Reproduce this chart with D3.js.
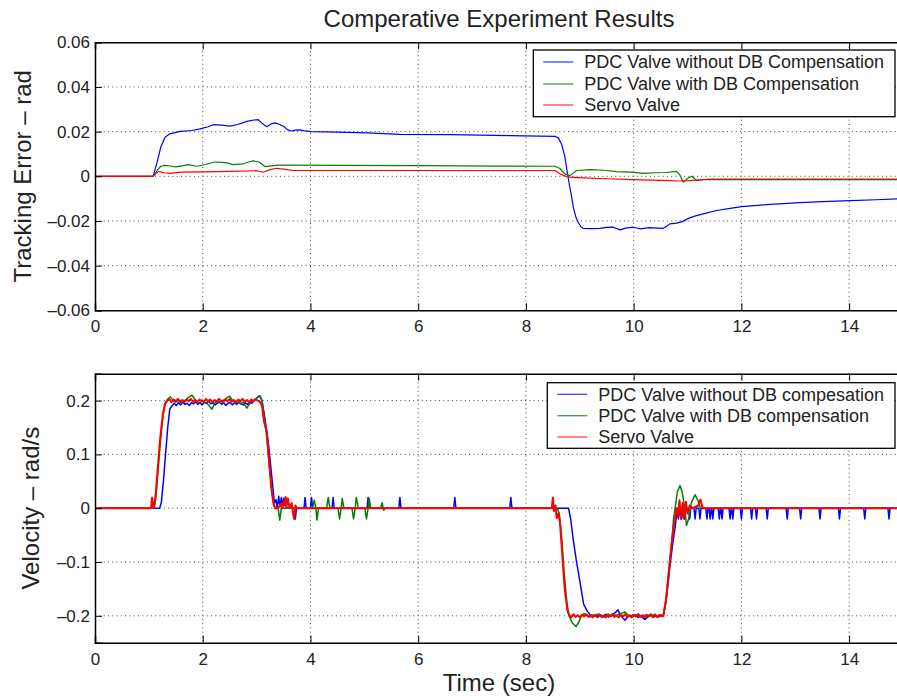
<!DOCTYPE html>
<html>
<head>
<meta charset="utf-8">
<script src="https://cdn.jsdelivr.net/npm/d3@7"></script>
<style>
  body { margin: 0; background: #fff; }
  svg { display: block; font-family: "Liberation Sans", Arial, Helvetica, sans-serif; }
</style>
</head>
<body>
<svg id="chart" width="897" height="700"></svg>
<script>
// ---- data ----
const xTicks = [0, 2, 4, 6, 8, 10, 12, 14];
const errTicks = [-0.06, -0.04, -0.02, 0, 0.02, 0.04, 0.06];
const velTicks = [-0.2, -0.1, 0, 0.1, 0.2];

const seriesColors = ["#0000ff", "#008000", "#ff0000"];
const errLegend = ["PDC Valve without DB Compensation", "PDC Valve with DB Compensation", "Servo Valve"];
const velLegend = ["PDC Valve without DB compesation", "PDC Valve with DB compensation", "Servo Valve"];

// tracking error [t, rad]
const errBlue = [[0,0],[1.08,0],[1.15,0.006],[1.22,0.013],[1.3,0.0175],[1.39,0.019],[1.58,0.0201],[1.8,0.0205],[1.95,0.0212],[2.1,0.0222],[2.2,0.0231],[2.35,0.0229],[2.5,0.0225],[2.65,0.0232],[2.82,0.0246],[2.95,0.0252],[3.03,0.0254],[3.1,0.0238],[3.19,0.0222],[3.27,0.0235],[3.34,0.0239],[3.42,0.0233],[3.5,0.0224],[3.58,0.0208],[3.65,0.0203],[3.72,0.0207],[3.81,0.0208],[3.9,0.0203],[4.02,0.02],[4.5,0.0198],[5.04,0.0194],[5.66,0.0188],[6.59,0.0187],[7.7,0.0182],[8.54,0.0179],[8.6,0.0172],[8.66,0.0145],[8.72,0.009],[8.76,0.003],[8.8,-0.003],[8.85,-0.0094],[8.88,-0.0139],[8.93,-0.0185],[8.97,-0.0206],[9.02,-0.0225],[9.06,-0.0233],[9.2,-0.0234],[9.37,-0.0233],[9.5,-0.0229],[9.62,-0.0228],[9.75,-0.024],[9.85,-0.0232],[9.99,-0.0228],[10.12,-0.0235],[10.3,-0.023],[10.45,-0.0232],[10.55,-0.0233],[10.62,-0.0222],[10.67,-0.0213],[10.8,-0.021],[10.9,-0.0203],[11.04,-0.0186],[11.15,-0.0177],[11.29,-0.0168],[11.54,-0.0153],[11.85,-0.0141],[12,-0.0136],[12.46,-0.0127],[13.09,-0.0118],[13.5,-0.0113],[14.02,-0.0109],[14.5,-0.0105],[15,-0.01]];
const errGreen = [[0,0],[1.08,0],[1.15,0.0025],[1.22,0.0045],[1.3,0.0049],[1.4,0.0046],[1.5,0.0042],[1.62,0.0047],[1.73,0.0052],[1.89,0.0045],[2.05,0.0053],[2.23,0.0064],[2.35,0.0062],[2.45,0.006],[2.56,0.0052],[2.75,0.0056],[2.87,0.0065],[2.94,0.0069],[3.05,0.0064],[3.16,0.0043],[3.28,0.0047],[3.4,0.005],[3.6,0.005],[4.5,0.0049],[6,0.0048],[7.5,0.0046],[8.54,0.0045],[8.63,0.0035],[8.72,0.0011],[8.82,0.0003],[8.94,0.0026],[9.19,0.003],[9.45,0.0027],[9.68,0.0021],[9.95,0.0019],[10.18,0.0013],[10.4,0.0016],[10.61,0.0017],[10.8,0.0022],[10.86,0.0005],[10.92,-0.0027],[11.0,-0.001],[11.08,0],[11.17,-0.0019],[11.29,-0.0015],[15,-0.0015]];
const errRed = [[0,0],[1.08,0],[1.18,0.0022],[1.28,0.0016],[1.4,0.0013],[1.6,0.0019],[2.0,0.002],[2.5,0.0022],[3.0,0.0025],[3.12,0.0018],[3.25,0.003],[3.37,0.0036],[3.5,0.0032],[3.68,0.0026],[5,0.0026],[8.54,0.0026],[8.63,0.0011],[8.79,-0.0004],[9.06,-0.0007],[9.5,-0.0011],[9.99,-0.0015],[10.5,-0.0018],[10.86,-0.0021],[11.04,-0.0019],[11.42,-0.0012],[15,-0.0012]];

// velocity [t, rad/s]
const velBlue = [[0,0],[1.2,0],[1.23,0.01],[1.27,0.05],[1.31,0.1],[1.35,0.15],[1.39,0.185],[1.43,0.19],[1.47,0.195],[1.51,0.191],[1.55,0.196],[1.59,0.192],[1.63,0.197],[1.67,0.193],[1.71,0.195],[1.75,0.191],[1.79,0.196],[1.83,0.194],[1.87,0.198],[1.91,0.193],[1.95,0.196],[1.99,0.192],[2.03,0.197],[2.07,0.195],[2.11,0.199],[2.15,0.194],[2.19,0.196],[2.23,0.192],[2.27,0.195],[2.31,0.198],[2.35,0.193],[2.39,0.196],[2.43,0.191],[2.47,0.195],[2.51,0.197],[2.55,0.192],[2.59,0.196],[2.63,0.193],[2.67,0.197],[2.71,0.194],[2.75,0.192],[2.79,0.196],[2.83,0.193],[2.87,0.197],[2.91,0.195],[2.95,0.199],[3.0,0.205],[3.06,0.209],[3.1,0.2],[3.15,0.17],[3.22,0.12],[3.28,0.06],[3.33,0.01],[3.36,0.016],[3.38,0],[3.41,0.022],[3.43,0.004],[3.46,0.02],[3.48,0.002],[3.5,0.018],[3.52,0.005],[3.54,0.021],[3.56,0],[3.7,0],[3.72,-0.02],[3.74,0],[3.88,0],[3.9,0.02],[3.92,0],[4.0,0],[4.02,0.02],[4.04,0],[4.4,0],[4.42,0.02],[4.44,0],[5.05,0],[5.07,0.02],[5.09,0],[5.64,0],[5.66,0.02],[5.68,0],[6.66,0],[6.68,0.02],[6.7,0],[7.7,0],[7.72,0.02],[7.74,0],[8.79,0],[8.83,-0.02],[8.88,-0.06],[8.94,-0.1],[9.0,-0.135],[9.07,-0.178],[9.13,-0.19],[9.18,-0.197],[9.23,-0.202],[9.28,-0.199],[9.33,-0.203],[9.38,-0.198],[9.43,-0.201],[9.48,-0.197],[9.53,-0.202],[9.58,-0.199],[9.63,-0.196],[9.67,-0.193],[9.71,-0.189],[9.75,-0.198],[9.8,-0.204],[9.84,-0.208],[9.88,-0.203],[9.93,-0.199],[9.98,-0.202],[10.03,-0.198],[10.08,-0.203],[10.13,-0.2],[10.17,-0.204],[10.21,-0.207],[10.26,-0.202],[10.31,-0.199],[10.36,-0.203],[10.41,-0.2],[10.46,-0.202],[10.51,-0.199],[10.55,-0.2],[10.6,-0.175],[10.64,-0.14],[10.67,-0.11],[10.72,-0.07],[10.77,-0.035],[10.81,0],[10.83,-0.02],[10.85,0],[10.87,-0.015],[10.89,-0.02],[10.91,0],[10.93,-0.018],[10.95,-0.02],[10.97,0],[11.02,0],[11.04,-0.02],[11.06,0],[11.12,0],[11.14,-0.02],[11.16,0],[11.21,0],[11.23,-0.02],[11.25,0],[11.34,0],[11.36,-0.02],[11.38,0],[11.4,0],[11.42,-0.02],[11.44,0],[11.45,0],[11.47,-0.02],[11.49,0],[11.57,0],[11.59,-0.02],[11.61,0],[11.62,0],[11.64,-0.02],[11.66,0],[11.77,0],[11.79,-0.02],[11.81,0],[11.82,0],[11.84,-0.02],[11.86,0],[11.98,0],[12.0,-0.02],[12.02,0],[12.17,0],[12.19,-0.02],[12.21,0],[12.26,0],[12.28,-0.02],[12.3,0],[12.46,0],[12.48,-0.02],[12.5,0],[12.83,0],[12.85,-0.02],[12.87,0],[13.08,0],[13.1,-0.02],[13.12,0],[13.44,0],[13.46,-0.02],[13.48,0],[13.8,0],[13.82,-0.02],[13.84,0],[14.27,0],[14.29,-0.02],[14.31,0],[14.72,0],[14.74,-0.02],[14.76,0],[15,0]];
const velGreen = [[0,0],[1.1,0],[1.13,0.02],[1.17,0.07],[1.21,0.12],[1.26,0.17],[1.3,0.195],[1.35,0.203],[1.4,0.207],[1.45,0.2],[1.5,0.197],[1.55,0.2],[1.6,0.196],[1.65,0.199],[1.7,0.203],[1.75,0.207],[1.8,0.21],[1.85,0.203],[1.9,0.198],[1.95,0.196],[2.0,0.2],[2.05,0.196],[2.1,0.193],[2.17,0.184],[2.22,0.195],[2.27,0.199],[2.32,0.196],[2.37,0.2],[2.42,0.203],[2.46,0.206],[2.5,0.208],[2.55,0.201],[2.6,0.196],[2.65,0.199],[2.7,0.194],[2.75,0.197],[2.82,0.186],[2.88,0.196],[2.93,0.199],[2.98,0.203],[3.05,0.209],[3.1,0.2],[3.15,0.165],[3.2,0.12],[3.25,0.065],[3.3,0.02],[3.34,0],[3.4,0],[3.43,-0.022],[3.46,0],[4.04,0],[4.07,0.015],[4.1,0],[4.12,-0.022],[4.15,0],[4.3,0],[4.33,0.02],[4.36,0],[4.51,0],[4.54,-0.02],[4.57,0],[4.59,0.018],[4.62,0],[4.77,0],[4.8,-0.02],[4.83,0],[4.85,0.02],[4.89,0],[5.01,0],[5.04,-0.02],[5.07,0],[5.09,0.018],[5.12,0],[5.3,0],[5.33,0.01],[5.36,-0.004],[5.38,0],[8.58,0],[8.62,-0.01],[8.66,-0.05],[8.71,-0.12],[8.76,-0.175],[8.8,-0.2],[8.86,-0.213],[8.93,-0.22],[8.98,-0.212],[9.03,-0.2],[9.08,-0.196],[9.13,-0.199],[9.18,-0.202],[9.23,-0.198],[9.28,-0.201],[9.33,-0.197],[9.38,-0.2],[9.43,-0.203],[9.48,-0.199],[9.53,-0.197],[9.58,-0.201],[9.63,-0.198],[9.68,-0.2],[9.73,-0.197],[9.78,-0.195],[9.84,-0.193],[9.89,-0.198],[9.94,-0.201],[9.99,-0.198],[10.04,-0.2],[10.09,-0.197],[10.14,-0.201],[10.19,-0.199],[10.24,-0.202],[10.29,-0.198],[10.34,-0.2],[10.39,-0.197],[10.44,-0.201],[10.49,-0.199],[10.55,-0.2],[10.6,-0.17],[10.65,-0.12],[10.7,-0.07],[10.74,-0.02],[10.77,0],[10.81,0.03],[10.86,0.042],[10.9,0.03],[10.95,0],[10.98,-0.032],[11.02,-0.02],[11.07,0.01],[11.14,0.025],[11.19,0.015],[11.24,0],[15,0]];
const velRed = [[0,0],[1.04,0],[1.06,0.02],[1.08,0],[1.1,0.005],[1.13,0.03],[1.17,0.08],[1.21,0.13],[1.26,0.175],[1.3,0.194],[1.34,0.2],[1.38,0.203],[1.42,0.197],[1.46,0.202],[1.5,0.199],[1.54,0.203],[1.58,0.198],[1.62,0.201],[1.66,0.197],[1.7,0.202],[1.74,0.199],[1.78,0.203],[1.82,0.198],[1.86,0.201],[1.9,0.197],[1.94,0.202],[1.98,0.2],[2.02,0.197],[2.06,0.203],[2.1,0.199],[2.14,0.202],[2.18,0.197],[2.22,0.201],[2.26,0.198],[2.3,0.203],[2.34,0.2],[2.38,0.197],[2.42,0.202],[2.46,0.199],[2.5,0.203],[2.54,0.198],[2.58,0.201],[2.62,0.197],[2.66,0.202],[2.7,0.199],[2.74,0.203],[2.78,0.198],[2.82,0.201],[2.86,0.197],[2.9,0.202],[2.94,0.199],[2.98,0.203],[3.02,0.2],[3.06,0.198],[3.1,0.19],[3.14,0.16],[3.19,0.141],[3.23,0.09],[3.27,0.04],[3.31,0.01],[3.34,0],[3.4,0],[3.45,0.008],[3.48,0],[3.53,0.02],[3.55,0],[3.58,0.018],[3.61,0],[3.65,0.01],[3.68,-0.012],[3.7,-0.02],[3.72,0.005],[3.75,0],[8.48,0],[8.5,0.02],[8.52,-0.005],[8.55,0.005],[8.57,-0.018],[8.6,-0.01],[8.63,-0.025],[8.67,-0.08],[8.72,-0.15],[8.77,-0.19],[8.8,-0.198],[8.84,-0.203],[8.88,-0.197],[8.92,-0.202],[8.96,-0.199],[9.0,-0.203],[9.04,-0.198],[9.08,-0.201],[9.12,-0.197],[9.16,-0.202],[9.2,-0.199],[9.24,-0.203],[9.28,-0.198],[9.32,-0.201],[9.36,-0.197],[9.4,-0.202],[9.44,-0.2],[9.48,-0.203],[9.52,-0.198],[9.56,-0.201],[9.6,-0.197],[9.64,-0.202],[9.68,-0.199],[9.72,-0.203],[9.76,-0.198],[9.8,-0.201],[9.84,-0.197],[9.88,-0.202],[9.92,-0.2],[9.96,-0.203],[10.0,-0.198],[10.04,-0.201],[10.08,-0.197],[10.12,-0.202],[10.16,-0.199],[10.2,-0.203],[10.24,-0.198],[10.28,-0.201],[10.32,-0.197],[10.36,-0.202],[10.4,-0.199],[10.44,-0.203],[10.48,-0.198],[10.52,-0.201],[10.55,-0.2],[10.6,-0.17],[10.65,-0.12],[10.7,-0.07],[10.75,-0.03],[10.79,0],[10.82,-0.015],[10.85,0.015],[10.88,-0.02],[10.91,0.01],[10.94,-0.02],[10.97,0.012],[11.0,-0.01],[11.04,0.005],[11.1,0],[11.2,0.005],[11.24,0.016],[11.28,0],[15,0]];

// ---- layout ----
const svg = d3.select("#chart");
const fmt = d => (d < 0 ? "\u2013" : "") + d3.format("")(Math.abs(d));

const x = d3.scaleLinear().domain([0, 15]).range([95, 903]);

svg.append("text")
    .attr("x", 499).attr("y", 27)
    .attr("text-anchor", "middle")
    .style("font-size", "24px").style("fill", "#222")
    .text("Comperative Experiment Results");

function panel(id, top, bottom, yDomain, yTicks, lines, legendLabels, legend, yLabel, labelX) {
    const y = d3.scaleLinear().domain(yDomain).range([bottom, top]);
    const g = svg.append("g");

    g.append("clipPath").attr("id", id)
        .append("rect").attr("x", x(0)).attr("y", top)
        .attr("width", x(15) - x(0)).attr("height", bottom - top);

    // dotted grid
    const grid = g.append("g").attr("stroke", "#444").attr("stroke-width", 1)
        .attr("stroke-dasharray", "1,3.3");
    xTicks.filter(d => d > 0).forEach(d => {
        grid.append("line").attr("x1", x(d)).attr("x2", x(d))
            .attr("y1", top).attr("y2", bottom);
    });
    yTicks.filter(d => d > yDomain[0] && d < yDomain[1]).forEach(d => {
        grid.append("line").attr("x1", x(0)).attr("x2", x(15))
            .attr("y1", y(d)).attr("y2", y(d));
    });

    // series
    const line = d3.line().x(d => x(d[0])).y(d => y(d[1]));
    const plot = g.append("g").attr("clip-path", `url(#${id})`);
    lines.forEach((s, i) => {
        plot.append("path").datum(s)
            .attr("d", line)
            .attr("fill", "none")
            .attr("stroke", seriesColors[i])
            .attr("stroke-width", legend.lw[i])
            .attr("stroke-linejoin", "round");
    });

    // axes with inward ticks
    const ax = g.append("g");
    ax.append("g").attr("transform", `translate(0,${bottom})`)
        .call(d3.axisBottom(x).tickValues(xTicks).tickSize(-7).tickPadding(10).tickFormat(fmt));
    ax.append("g").attr("transform", `translate(0,${top})`)
        .call(d3.axisTop(x).tickValues(xTicks).tickSize(-7).tickFormat(""));
    ax.append("g").attr("transform", `translate(${x(0)},0)`)
        .call(d3.axisLeft(y).tickValues(yTicks).tickSize(-7).tickPadding(5).tickFormat(fmt));
    ax.selectAll(".domain").attr("stroke", "#000").attr("stroke-width", 1.5);
    ax.selectAll(".tick line").attr("stroke", "#000").attr("stroke-width", 1);
    ax.selectAll("g").attr("font-family", null).attr("font-size", null);
    ax.selectAll(".tick text").style("font-size", "17px").style("fill", "#222");

    // y label
    g.append("text")
        .attr("transform", `translate(${labelX},${(top + bottom) / 2}) rotate(-90)`)
        .attr("text-anchor", "middle")
        .style("font-size", "24px").style("fill", "#222")
        .text(yLabel);

    // legend box
    const lg = g.append("g");
    lg.append("rect")
        .attr("x", legend.x0).attr("y", legend.y0)
        .attr("width", 895 - legend.x0).attr("height", legend.y1 - legend.y0)
        .attr("fill", "#fff").attr("stroke", "#000").attr("stroke-width", 1.3);
    legendLabels.forEach((lab, i) => {
        const ry = legend.rows[i];
        lg.append("line")
            .attr("x1", legend.x0 + 10).attr("x2", legend.x0 + 40)
            .attr("y1", ry).attr("y2", ry)
            .attr("stroke", seriesColors[i]).attr("stroke-width", 1.3).attr("stroke-opacity", 0.75);
        lg.append("text")
            .attr("x", legend.x0 + 51).attr("y", ry).attr("dy", "0.35em")
            .style("font-size", "18px").style("fill", "#222")
            .text(lab);
    });
}

panel("clipTop", 42.3, 310.3, [-0.06, 0.06], errTicks, [errBlue, errGreen, errRed], errLegend,
    { x0: 533.3, y0: 50, y1: 116.7, rows: [62, 84, 105], lw: [1.2, 1.2, 1.2] },
    "Tracking Error \u2013 rad", 31);

panel("clipBot", 373.7, 642.7, [-0.25, 0.25], velTicks, [velBlue, velGreen, velRed], velLegend,
    { x0: 547.3, y0: 382.7, y1: 448.3, rows: [394.3, 415.7, 437], lw: [1.5, 1.5, 2] },
    "Velocity \u2013 rad/s", 39);

svg.append("text")
    .attr("x", 499).attr("y", 691)
    .attr("text-anchor", "middle")
    .style("font-size", "24px").style("fill", "#222")
    .text("Time (sec)");
</script>
</body>
</html>
